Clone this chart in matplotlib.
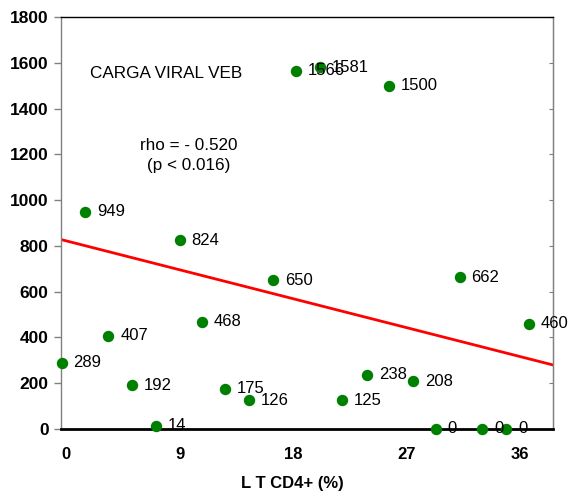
import matplotlib.pyplot as plt

plt.rcParams['font.family'] = ['Liberation Sans', 'DejaVu Sans']

# LT CD4+ (%) vs carga viral VEB
cd4_pct = [1.5, 9.0, 18.2, 20.1, 25.6, -0.35, 3.35, 10.75, 5.25, 7.1,
           12.6, 14.5, 16.4, 31.2, 36.7, 23.85, 27.5, 21.9, 29.3, 33.0, 34.9]
viral_load = [949, 824, 1566, 1581, 1500, 289, 407, 468, 192, 14,
              175, 126, 650, 662, 460, 238, 208, 125, 0, 0, 0]

# regression line
fit_intercept = 822
fit_slope = -14.05

x_ticks = [0, 9, 18, 27, 36]
y_ticks = list(range(0, 1801, 200))

fig = plt.figure(figsize=(5.73, 4.99), dpi=100)
ax = fig.add_axes([0.1065, 0.1403, 0.8586, 0.8257])

x_min, x_max = -0.4, 38.6
ax.set_xlim(x_min, x_max)
ax.set_ylim(0, 1800)

ax.plot([x_min, x_max],
        [fit_intercept + fit_slope * x_min, fit_intercept + fit_slope * x_max],
        color='#ff0000', lw=2, zorder=2)

ax.plot(cd4_pct, viral_load, 'o', color='#008000', ms=7.2, clip_on=False, zorder=3)

for x, y in zip(cd4_pct, viral_load):
    ax.annotate(str(y), (x, y), xytext=(8.5, 0), textcoords='offset points',
                ha='left', va='center', fontsize=12, annotation_clip=False, zorder=4)

ax.text(1.9, 1555, 'CARGA VIRAL VEB', fontsize=12.3, ha='left', va='center')
ax.text(9.7, 1240, 'rho = - 0.520', fontsize=12.3, ha='center', va='center')
ax.text(9.7, 1149, '(p < 0.016)', fontsize=12.3, ha='center', va='center')

ax.set_xticks(x_ticks)
ax.set_yticks(y_ticks)
ax.tick_params(axis='x', length=0, pad=13, labelsize=12)
ax.tick_params(axis='y', direction='out', length=5, width=1, color='#808080',
               labelsize=12.5, pad=4)
for lab in ax.get_xticklabels() + ax.get_yticklabels():
    lab.set_fontweight('bold')

# short inward ticks on the right edge
right_ax = ax.secondary_yaxis('right')
right_ax.set_yticks(y_ticks)
right_ax.tick_params(direction='in', length=3, color='#808080', labelright=False)
right_ax.spines['right'].set_color('#808080')

ax.spines['left'].set_color('#808080')
ax.spines['right'].set_color('#808080')
ax.spines['top'].set_color('black')
ax.spines['bottom'].set_color('black')
ax.spines['bottom'].set_linewidth(2)
ax.spines['top'].set_linewidth(1)
ax.spines['left'].set_linewidth(1)
ax.spines['right'].set_linewidth(1)

ax.set_xlabel('L T CD4+ (%)', fontsize=12, fontweight='bold')
ax.xaxis.set_label_coords(0.47, -0.115)

fig.savefig('out.png', dpi=100)
